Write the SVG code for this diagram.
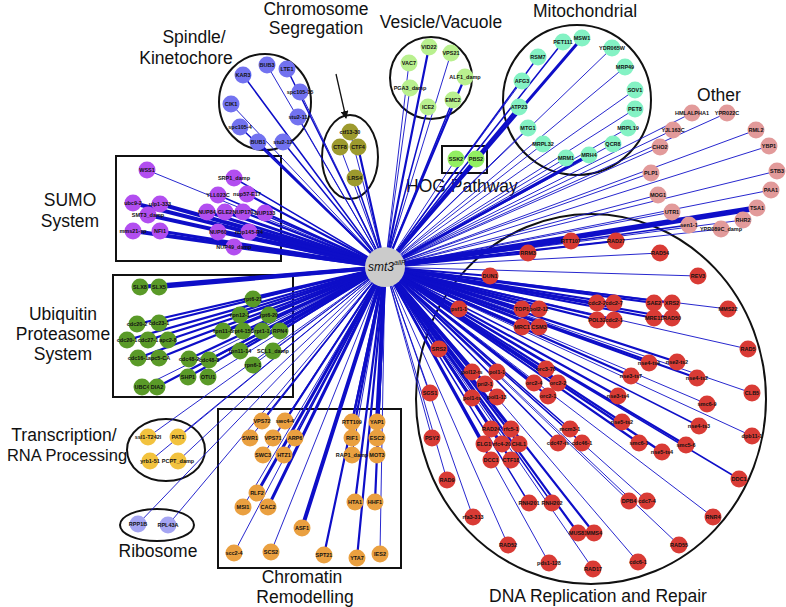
<svg xmlns="http://www.w3.org/2000/svg" width="786" height="607" viewBox="0 0 786 607">
<style>
.e{stroke:#0e0ec8;fill:none;stroke-linecap:round}
.w1{stroke-width:0.9}.w15{stroke-width:1.5}.w2{stroke-width:2.2}.w3{stroke-width:3}.w4{stroke-width:4}.w5{stroke-width:5.5}
.n circle{r:8.5px}
.t{font-family:"Liberation Sans",Arial,sans-serif;font-size:5.5px;font-weight:bold;text-anchor:middle;fill:#111}
.g{font-family:"Liberation Sans",Arial,sans-serif;font-size:17.5px;fill:#111;text-anchor:middle}
.enc{fill:none;stroke:#111;stroke-width:2}
.sp circle{fill:#7272f0}.cs circle{fill:#9d9a2e}.ve circle{fill:#b9f08f}.mi circle{fill:#84f2c4}.ho circle{fill:#92ef62}
.ot circle{fill:#e29a9a}.su circle{fill:#b24ef0}.ub circle{fill:#5a9a28}.tr circle{fill:#f2c23e}.ri circle{fill:#a4a4f2}
.ch circle{fill:#eaa040}.dn circle{fill:#d93b35}
</style>
<rect width="786" height="607" fill="#fff"/>
<g id="enclosures">
<ellipse class="enc" cx="265" cy="102" rx="46" ry="48"/>
<ellipse class="enc" cx="350" cy="157" rx="28" ry="42"/>
<circle class="enc" cx="431" cy="78" r="41"/>
<ellipse class="enc" cx="577" cy="100" rx="74" ry="75"/>
<rect class="enc" x="442" y="146" width="45" height="27"/>
<rect class="enc" x="116" y="156" width="165" height="105"/>
<rect class="enc" x="113" y="275" width="180" height="122"/>
<ellipse class="enc" cx="166" cy="450" rx="39" ry="31"/>
<ellipse class="enc" cx="157" cy="525" rx="37" ry="16"/>
<rect class="enc" x="218" y="409" width="183" height="159"/>
<ellipse class="enc" cx="591" cy="399" rx="175" ry="185"/>
</g>
<g id="group-labels">
<text class="g" x="194" y="43">Spindle/</text>
<text class="g" x="186" y="64">Kinetochore</text>
<text class="g" x="316" y="15">Chromosome</text>
<text class="g" x="316" y="34">Segregation</text>
<text class="g" x="441" y="28">Vesicle/Vacuole</text>
<text class="g" x="585" y="17">Mitochondrial</text>
<text class="g" x="719" y="101">Other</text>
<text class="g" x="406" y="192" style="text-anchor:start">HOG Pathway</text>
<text class="g" x="70" y="206">SUMO</text>
<text class="g" x="70" y="227">System</text>
<text class="g" x="63" y="320">Ubiquitin</text>
<text class="g" x="63" y="340">Proteasome</text>
<text class="g" x="63" y="360">System</text>
<text class="g" x="64" y="441">Transcription/</text>
<text class="g" x="67" y="461" style="font-size:16.5px">RNA Processing</text>
<text class="g" x="158" y="557">Ribosome</text>
<text class="g" x="302" y="583">Chromatin</text>
<text class="g" x="305" y="603">Remodelling</text>
<text class="g" x="598" y="602">DNA Replication and Repair</text>
</g>
<g id="arrow">
<defs><marker id="ah" markerWidth="8" markerHeight="8" refX="7" refY="4" orient="auto" markerUnits="userSpaceOnUse"><path d="M0,0L8,4L0,8z" fill="#111"/></marker></defs>
<line x1="336" y1="74" x2="346" y2="118" stroke="#111" stroke-width="1.3" marker-end="url(#ah)"/>
</g>
<g id="connectors" class="e">
<path class="w1" d="M385 267L267 65"/><path class="w15" d="M385 267L287 69"/><path class="w15" d="M385 267L243 75"/><path class="w1" d="M385 267L300 92"/><path class="w1" d="M385 267L231 104"/><path class="w1" d="M385 267L298 117"/><path class="w15" d="M385 267L240 127"/><path class="w2" d="M385 267L258 142"/><path class="w15" d="M385 267L283 142"/>
<path class="w1" d="M385 267L350 132"/><path class="w1" d="M385 267L340 147"/><path class="w2" d="M385 267L358 147"/><path class="w15" d="M385 267L355 178"/>
<path class="w2" d="M385 267L429 47"/><path class="w1" d="M385 267L451 53"/><path class="w1" d="M385 267L409 63"/><path class="w2" d="M385 267L465 77"/><path class="w1" d="M385 267L410 88"/><path class="w15" d="M385 267L428 107"/><path class="w15" d="M385 267L453 100"/>
<path class="w15" d="M385 267L563 42"/><path class="w3" d="M385 267L582 38"/><path class="w1" d="M385 267L612 48"/><path class="w15" d="M385 267L538 57"/><path class="w1" d="M385 267L625 67"/><path class="w1" d="M385 267L522 81"/><path class="w1" d="M385 267L635 90"/><path class="w3" d="M385 267L519 107"/><path class="w1" d="M385 267L635 109"/><path class="w1" d="M385 267L528 128"/><path class="w1" d="M385 267L628 128"/><path class="w1" d="M385 267L543 144"/><path class="w1" d="M385 267L613 144"/><path class="w1" d="M385 267L566 158"/><path class="w3" d="M385 267L589 155"/>
<path class="w1" d="M385 267L456 159"/><path class="w1" d="M385 267L476 159"/>
<path class="w1" d="M385 267L692 113"/><path class="w1" d="M385 267L727 113"/><path class="w1" d="M385 267L673 130"/><path class="w1" d="M385 267L756 130"/><path class="w1" d="M385 267L660 147"/><path class="w1" d="M385 267L769 146"/><path class="w1" d="M385 267L651 173"/><path class="w1" d="M385 267L777 171"/><path class="w1" d="M385 267L658 195"/><path class="w1" d="M385 267L771 190"/><path class="w1" d="M385 267L672 212"/><path class="w5" d="M385 267L757 208"/><path class="w1" d="M385 267L743 220"/><path class="w15" d="M385 267L689 225"/><path class="w1" d="M385 267L721 229"/>
<path class="w1" d="M385 267L147 170"/><path class="w15" d="M385 267L234 178"/><path class="w15" d="M385 267L218 195"/><path class="w2" d="M385 267L247 194"/><path class="w4" d="M385 267L133 203"/><path class="w4" d="M385 267L160 204"/><path class="w4" d="M385 267L148 215"/><path class="w3" d="M385 267L207 212"/><path class="w3" d="M385 267L225 212"/><path class="w2" d="M385 267L243 212"/><path class="w2" d="M385 267L265 213"/><path class="w4" d="M385 267L133 231"/><path class="w3" d="M385 267L160 231"/><path class="w3" d="M385 267L218 232"/><path class="w3" d="M385 267L249 232"/><path class="w3" d="M385 267L234 247"/>
<path class="w4" d="M385 267L140 287"/><path class="w4" d="M385 267L159 287"/><path class="w2" d="M385 267L253 299"/><path class="w2" d="M385 267L240 315"/><path class="w2" d="M385 267L269 315"/><path class="w2" d="M385 267L137 324"/><path class="w2" d="M385 267L159 323"/><path class="w2" d="M385 267L223 331"/><path class="w2" d="M385 267L243 331"/><path class="w2" d="M385 267L262 331"/><path class="w2" d="M385 267L280 331"/><path class="w2" d="M385 267L127 340"/><path class="w2" d="M385 267L148 340"/><path class="w2" d="M385 267L168 340"/><path class="w2" d="M385 267L240 351"/><path class="w1" d="M385 267L273 351"/><path class="w2" d="M385 267L138 358"/><path class="w2" d="M385 267L159 358"/><path class="w2" d="M385 267L189 359"/><path class="w2" d="M385 267L209 360"/><path class="w1" d="M385 267L253 365"/><path class="w2" d="M385 267L188 377"/><path class="w1" d="M385 267L208 377"/><path class="w1" d="M385 267L142 387"/><path class="w2" d="M385 267L157 387"/>
<path class="w1" d="M385 267L148 437"/><path class="w1" d="M385 267L178 437"/><path class="w1" d="M385 267L150 461"/><path class="w1" d="M385 267L178 461"/>
<path class="w1" d="M385 267L138 524"/><path class="w1" d="M385 267L168 525"/>
<path class="w15" d="M385 267L262 421"/><path class="w2" d="M385 267L285 421"/><path class="w1" d="M385 267L250 438"/><path class="w1" d="M385 267L273 438"/><path class="w15" d="M385 267L295 438"/><path class="w1" d="M385 267L263 455"/><path class="w15" d="M385 267L284 455"/><path class="w2" d="M385 267L352 422"/><path class="w4" d="M385 267L377 422"/><path class="w2" d="M385 267L352 438"/><path class="w3" d="M385 267L377 438"/><path class="w1" d="M385 267L352 455"/><path class="w2" d="M385 267L377 455"/><path class="w3" d="M385 267L257 493"/><path class="w1" d="M385 267L243 507"/><path class="w3" d="M385 267L268 507"/><path class="w2" d="M385 267L355 502"/><path class="w2" d="M385 267L375 502"/><path class="w4" d="M385 267L302 528"/><path class="w1" d="M385 267L234 553"/><path class="w1" d="M385 267L271 552"/><path class="w2" d="M385 267L324 555"/><path class="w2" d="M385 267L357 558"/><path class="w1" d="M385 267L380 554"/>
<path class="w2" d="M385 267L571 241"/><path class="w2" d="M385 267L616 241"/><path class="w1" d="M385 267L660 253"/><path class="w1" d="M385 267L698 276"/><path class="w2" d="M385 267L528 253"/><path class="w2" d="M385 267L490 276"/><path class="w2" d="M385 267L459 309"/><path class="w3" d="M385 267L522 309"/><path class="w3" d="M385 267L539 309"/><path class="w3" d="M385 267L522 327"/><path class="w3" d="M385 267L539 327"/><path class="w2" d="M385 267L597 303"/><path class="w2" d="M385 267L614 303"/><path class="w2" d="M385 267L654 303"/><path class="w2" d="M385 267L672 303"/><path class="w1" d="M385 267L728 309"/><path class="w2" d="M385 267L597 320"/><path class="w2" d="M385 267L614 320"/><path class="w2" d="M385 267L654 318"/><path class="w2" d="M385 267L672 318"/><path class="w2" d="M385 267L439 349"/><path class="w1" d="M385 267L748 349"/><path class="w2" d="M385 267L649 363"/><path class="w2" d="M385 267L677 362"/><path class="w2" d="M385 267L631 376"/><path class="w2" d="M385 267L697 378"/><path class="w2" d="M385 267L546 369"/><path class="w2" d="M385 267L472 372"/><path class="w2" d="M385 267L497 372"/><path class="w2" d="M385 267L485 384"/><path class="w2" d="M385 267L534 383"/><path class="w2" d="M385 267L558 383"/><path class="w1" d="M385 267L430 393"/><path class="w1" d="M385 267L752 393"/><path class="w2" d="M385 267L618 396"/><path class="w2" d="M385 267L472 398"/><path class="w2" d="M385 267L497 397"/><path class="w2" d="M385 267L548 396"/><path class="w1" d="M385 267L707 404"/><path class="w2" d="M385 267L622 422"/><path class="w15" d="M385 267L699 426"/><path class="w2" d="M385 267L491 429"/><path class="w2" d="M385 267L511 429"/><path class="w15" d="M385 267L570 429"/><path class="w1" d="M385 267L752 436"/><path class="w1" d="M385 267L432 438"/><path class="w2" d="M385 267L484 444"/><path class="w2" d="M385 267L502 444"/><path class="w2" d="M385 267L519 444"/><path class="w15" d="M385 267L558 443"/><path class="w15" d="M385 267L582 443"/><path class="w2" d="M385 267L639 443"/><path class="w2" d="M385 267L686 445"/><path class="w2" d="M385 267L662 452"/><path class="w2" d="M385 267L491 460"/><path class="w2" d="M385 267L511 460"/><path class="w1" d="M385 267L447 480"/><path class="w15" d="M385 267L739 479"/><path class="w15" d="M385 267L529 503"/><path class="w15" d="M385 267L552 503"/><path class="w1" d="M385 267L629 501"/><path class="w1" d="M385 267L647 501"/><path class="w1" d="M385 267L473 517"/><path class="w1" d="M385 267L713 517"/><path class="w2" d="M385 267L578 533"/><path class="w2" d="M385 267L594 533"/><path class="w1" d="M385 267L508 545"/><path class="w1" d="M385 267L679 545"/><path class="w1" d="M385 267L549 563"/><path class="w1" d="M385 267L638 562"/><path class="w1" d="M385 267L593 569"/>
</g>
<g id="hub"><circle cx="385" cy="267" r="20" fill="#cbcbcb"/><text x="368" y="271" font-family="Liberation Sans,Arial,sans-serif" font-size="12" font-style="italic" fill="#111">smt3<tspan font-size="7" dy="-6">allR</tspan></text></g>
<g id="spindle" class="n sp">
<g id="n-BUB3"><circle cx="267" cy="65"/><text class="t" x="267" y="67">BUB3</text></g>
<g id="n-LTE1"><circle cx="287" cy="69"/><text class="t" x="287" y="71">LTE1</text></g>
<g id="n-KAR3"><circle cx="243" cy="75"/><text class="t" x="243" y="77">KAR3</text></g>
<g id="n-spc105-15"><circle cx="300" cy="92"/><text class="t" x="300" y="94">spc105-15</text></g>
<g id="n-CIK1"><circle cx="231" cy="104"/><text class="t" x="231" y="106">CIK1</text></g>
<g id="n-stu2-11"><circle cx="298" cy="117"/><text class="t" x="298" y="119">stu2-11</text></g>
<g id="n-spc105-4"><circle cx="240" cy="127"/><text class="t" x="240" y="129">spc105-4</text></g>
<g id="n-BUB1"><circle cx="258" cy="142"/><text class="t" x="258" y="144">BUB1</text></g>
<g id="n-stu2-12"><circle cx="283" cy="142"/><text class="t" x="283" y="144">stu2-12</text></g>
</g>
<g id="chromseg" class="n cs">
<g id="n-ctf13-30"><circle cx="350" cy="132"/><text class="t" x="350" y="134">ctf13-30</text></g>
<g id="n-CTF8"><circle cx="340" cy="147"/><text class="t" x="340" y="149">CTF8</text></g>
<g id="n-CTF4"><circle cx="358" cy="147"/><text class="t" x="358" y="149">CTF4</text></g>
<g id="n-LRS4"><circle cx="355" cy="178"/><text class="t" x="355" y="180">LRS4</text></g>
</g>
<g id="vesicle" class="n ve">
<g id="n-VID22"><circle cx="429" cy="47"/><text class="t" x="429" y="49">VID22</text></g>
<g id="n-VPS21"><circle cx="451" cy="53"/><text class="t" x="451" y="55">VPS21</text></g>
<g id="n-VAC7"><circle cx="409" cy="63"/><text class="t" x="409" y="65">VAC7</text></g>
<g id="n-ALF1_damp"><circle cx="465" cy="77"/><text class="t" x="465" y="79">ALF1_damp</text></g>
<g id="n-PGA3_damp"><circle cx="410" cy="88"/><text class="t" x="410" y="90">PGA3_damp</text></g>
<g id="n-ICE2"><circle cx="428" cy="107"/><text class="t" x="428" y="109">ICE2</text></g>
<g id="n-EMC2"><circle cx="453" cy="100"/><text class="t" x="453" y="102">EMC2</text></g>
</g>
<g id="mito" class="n mi">
<g id="n-PET111"><circle cx="563" cy="42"/><text class="t" x="563" y="44">PET111</text></g>
<g id="n-MSW1"><circle cx="582" cy="38"/><text class="t" x="582" y="40">MSW1</text></g>
<g id="n-YDR065W"><circle cx="612" cy="48"/><text class="t" x="612" y="50">YDR065W</text></g>
<g id="n-RSM7"><circle cx="538" cy="57"/><text class="t" x="538" y="59">RSM7</text></g>
<g id="n-MRP49"><circle cx="625" cy="67"/><text class="t" x="625" y="69">MRP49</text></g>
<g id="n-AFG3"><circle cx="522" cy="81"/><text class="t" x="522" y="83">AFG3</text></g>
<g id="n-SOV1"><circle cx="635" cy="90"/><text class="t" x="635" y="92">SOV1</text></g>
<g id="n-ATP23"><circle cx="519" cy="107"/><text class="t" x="519" y="109">ATP23</text></g>
<g id="n-PET8"><circle cx="635" cy="109"/><text class="t" x="635" y="111">PET8</text></g>
<g id="n-MTG1"><circle cx="528" cy="128"/><text class="t" x="528" y="130">MTG1</text></g>
<g id="n-MRPL19"><circle cx="628" cy="128"/><text class="t" x="628" y="130">MRPL19</text></g>
<g id="n-MRPL32"><circle cx="543" cy="144"/><text class="t" x="543" y="146">MRPL32</text></g>
<g id="n-QCR8"><circle cx="613" cy="144"/><text class="t" x="613" y="146">QCR8</text></g>
<g id="n-MRM1"><circle cx="566" cy="158"/><text class="t" x="566" y="160">MRM1</text></g>
<g id="n-MRH4"><circle cx="589" cy="155"/><text class="t" x="589" y="157">MRH4</text></g>
</g>
<g id="hog" class="n ho">
<g id="n-SSK2"><circle cx="456" cy="159"/><text class="t" x="456" y="161">SSK2</text></g>
<g id="n-PBS2"><circle cx="476" cy="159"/><text class="t" x="476" y="161">PBS2</text></g>
</g>
<g id="other" class="n ot">
<g id="n-HMLALPHA1"><circle cx="692" cy="113"/><text class="t" x="692" y="115">HMLALPHA1</text></g>
<g id="n-YPR022C"><circle cx="727" cy="113"/><text class="t" x="727" y="115">YPR022C</text></g>
<g id="n-YJL163C"><circle cx="673" cy="130"/><text class="t" x="673" y="132">YJL163C</text></g>
<g id="n-RML2"><circle cx="756" cy="130"/><text class="t" x="756" y="132">RML2</text></g>
<g id="n-CHO2"><circle cx="660" cy="147"/><text class="t" x="660" y="149">CHO2</text></g>
<g id="n-YBP1"><circle cx="769" cy="146"/><text class="t" x="769" y="148">YBP1</text></g>
<g id="n-PLP1"><circle cx="651" cy="173"/><text class="t" x="651" y="175">PLP1</text></g>
<g id="n-STB3"><circle cx="777" cy="171"/><text class="t" x="777" y="173">STB3</text></g>
<g id="n-MOG1"><circle cx="658" cy="195"/><text class="t" x="658" y="197">MOG1</text></g>
<g id="n-PAA1"><circle cx="771" cy="190"/><text class="t" x="771" y="192">PAA1</text></g>
<g id="n-UTR1"><circle cx="672" cy="212"/><text class="t" x="672" y="214">UTR1</text></g>
<g id="n-TSA1"><circle cx="757" cy="208"/><text class="t" x="757" y="210">TSA1</text></g>
<g id="n-RHR2"><circle cx="743" cy="220"/><text class="t" x="743" y="222">RHR2</text></g>
<g id="n-sen1-1"><circle cx="689" cy="225"/><text class="t" x="689" y="227">sen1-1</text></g>
<g id="n-YPR089C_damp"><circle cx="721" cy="229"/><text class="t" x="721" y="231">YPR089C_damp</text></g>
</g>
<g id="sumo" class="n su">
<g id="n-WSS1"><circle cx="147" cy="170"/><text class="t" x="147" y="172">WSS1</text></g>
<g id="n-SRP1_damp"><circle cx="234" cy="178"/><text class="t" x="234" y="180">SRP1_damp</text></g>
<g id="n-YLL023C"><circle cx="218" cy="195"/><text class="t" x="218" y="197">YLL023C</text></g>
<g id="n-nup57-E17"><circle cx="247" cy="194"/><text class="t" x="247" y="196">nup57-E17</text></g>
<g id="n-ubc9-2"><circle cx="133" cy="203"/><text class="t" x="133" y="205">ubc9-2</text></g>
<g id="n-ulp1-333"><circle cx="160" cy="204"/><text class="t" x="160" y="206">ulp1-333</text></g>
<g id="n-SMT3_damp"><circle cx="148" cy="215"/><text class="t" x="148" y="217">SMT3_damp</text></g>
<g id="n-NUP84"><circle cx="207" cy="212"/><text class="t" x="207" y="214">NUP84</text></g>
<g id="n-GLE2"><circle cx="225" cy="212"/><text class="t" x="225" y="214">GLE2</text></g>
<g id="n-NUP170"><circle cx="243" cy="212"/><text class="t" x="243" y="214">NUP170</text></g>
<g id="n-NUP133"><circle cx="265" cy="213"/><text class="t" x="265" y="215">NUP133</text></g>
<g id="n-mms21-sp"><circle cx="133" cy="231"/><text class="t" x="133" y="233">mms21-sp</text></g>
<g id="n-NFI1"><circle cx="160" cy="231"/><text class="t" x="160" y="233">NFI1</text></g>
<g id="n-NUP60"><circle cx="218" cy="232"/><text class="t" x="218" y="234">NUP60</text></g>
<g id="n-nup145-R4"><circle cx="249" cy="232"/><text class="t" x="249" y="234">nup145-R4</text></g>
<g id="n-NUP49_damp"><circle cx="234" cy="247"/><text class="t" x="234" y="249">NUP49_damp</text></g>
</g>
<g id="ubiq" class="n ub">
<g id="n-SLX8"><circle cx="140" cy="287"/><text class="t" x="140" y="289">SLX8</text></g>
<g id="n-SLX5"><circle cx="159" cy="287"/><text class="t" x="159" y="289">SLX5</text></g>
<g id="n-rpt6-21"><circle cx="253" cy="299"/><text class="t" x="253" y="301">rpt6-21</text></g>
<g id="n-rpn12-1"><circle cx="240" cy="315"/><text class="t" x="240" y="317">rpn12-1</text></g>
<g id="n-rpt6-20"><circle cx="269" cy="315"/><text class="t" x="269" y="317">rpt6-20</text></g>
<g id="n-cdc20-2"><circle cx="137" cy="324"/><text class="t" x="137" y="326">cdc20-2</text></g>
<g id="n-cdc23-1"><circle cx="159" cy="323"/><text class="t" x="159" y="325">cdc23-1</text></g>
<g id="n-rpn11-8"><circle cx="223" cy="331"/><text class="t" x="223" y="333">rpn11-8</text></g>
<g id="n-rpt4-150"><circle cx="243" cy="331"/><text class="t" x="243" y="333">rpt4-150</text></g>
<g id="n-rpt1-1"><circle cx="262" cy="331"/><text class="t" x="262" y="333">rpt1-1</text></g>
<g id="n-RPN4"><circle cx="280" cy="331"/><text class="t" x="280" y="333">RPN4</text></g>
<g id="n-cdc20-1"><circle cx="127" cy="340"/><text class="t" x="127" y="342">cdc20-1</text></g>
<g id="n-cdc27-1"><circle cx="148" cy="340"/><text class="t" x="148" y="342">cdc27-1</text></g>
<g id="n-apc2-8"><circle cx="168" cy="340"/><text class="t" x="168" y="342">apc2-8</text></g>
<g id="n-rpn11-14"><circle cx="240" cy="351"/><text class="t" x="240" y="353">rpn11-14</text></g>
<g id="n-SCL1_damp"><circle cx="273" cy="351"/><text class="t" x="273" y="353">SCL1_damp</text></g>
<g id="n-cdc16-1"><circle cx="138" cy="358"/><text class="t" x="138" y="360">cdc16-1</text></g>
<g id="n-apc5-CA"><circle cx="159" cy="358"/><text class="t" x="159" y="360">apc5-CA</text></g>
<g id="n-cdc48-2"><circle cx="189" cy="359"/><text class="t" x="189" y="361">cdc48-2</text></g>
<g id="n-cdc48-3"><circle cx="209" cy="360"/><text class="t" x="209" y="362">cdc48-3</text></g>
<g id="n-rpn6-1"><circle cx="253" cy="365"/><text class="t" x="253" y="367">rpn6-1</text></g>
<g id="n-SHP1"><circle cx="188" cy="377"/><text class="t" x="188" y="379">SHP1</text></g>
<g id="n-OTU1"><circle cx="208" cy="377"/><text class="t" x="208" y="379">OTU1</text></g>
<g id="n-UBC4"><circle cx="142" cy="387"/><text class="t" x="142" y="389">UBC4</text></g>
<g id="n-DIA2"><circle cx="157" cy="387"/><text class="t" x="157" y="389">DIA2</text></g>
</g>
<g id="transcr" class="n tr">
<g id="n-ssl1-T242I"><circle cx="148" cy="437"/><text class="t" x="148" y="439">ssl1-T242I</text></g>
<g id="n-PAT1"><circle cx="178" cy="437"/><text class="t" x="178" y="439">PAT1</text></g>
<g id="n-yrb1-51"><circle cx="150" cy="461"/><text class="t" x="150" y="463">yrb1-51</text></g>
<g id="n-PCPT_damp"><circle cx="178" cy="461"/><text class="t" x="178" y="463">PCPT_damp</text></g>
</g>
<g id="ribo" class="n ri">
<g id="n-RPP1B"><circle cx="138" cy="524"/><text class="t" x="138" y="526">RPP1B</text></g>
<g id="n-RPL43A"><circle cx="168" cy="525"/><text class="t" x="168" y="527">RPL43A</text></g>
</g>
<g id="chromatin" class="n ch">
<g id="n-VPS72"><circle cx="262" cy="421"/><text class="t" x="262" y="423">VPS72</text></g>
<g id="n-swc4-4"><circle cx="285" cy="421"/><text class="t" x="285" y="423">swc4-4</text></g>
<g id="n-SWR1"><circle cx="250" cy="438"/><text class="t" x="250" y="440">SWR1</text></g>
<g id="n-VPS71"><circle cx="273" cy="438"/><text class="t" x="273" y="440">VPS71</text></g>
<g id="n-ARP6"><circle cx="295" cy="438"/><text class="t" x="295" y="440">ARP6</text></g>
<g id="n-SWC3"><circle cx="263" cy="455"/><text class="t" x="263" y="457">SWC3</text></g>
<g id="n-HTZ1"><circle cx="284" cy="455"/><text class="t" x="284" y="457">HTZ1</text></g>
<g id="n-RTT109"><circle cx="352" cy="422"/><text class="t" x="352" y="424">RTT109</text></g>
<g id="n-YAP1"><circle cx="377" cy="422"/><text class="t" x="377" y="424">YAP1</text></g>
<g id="n-RIF1"><circle cx="352" cy="438"/><text class="t" x="352" y="440">RIF1</text></g>
<g id="n-ESC2"><circle cx="377" cy="438"/><text class="t" x="377" y="440">ESC2</text></g>
<g id="n-RAP1_damp"><circle cx="352" cy="455"/><text class="t" x="352" y="457">RAP1_damp</text></g>
<g id="n-MOT3"><circle cx="377" cy="455"/><text class="t" x="377" y="457">MOT3</text></g>
<g id="n-RLF2"><circle cx="257" cy="493"/><text class="t" x="257" y="495">RLF2</text></g>
<g id="n-MSI1"><circle cx="243" cy="507"/><text class="t" x="243" y="509">MSI1</text></g>
<g id="n-CAC2"><circle cx="268" cy="507"/><text class="t" x="268" y="509">CAC2</text></g>
<g id="n-HTA1"><circle cx="355" cy="502"/><text class="t" x="355" y="504">HTA1</text></g>
<g id="n-HHF1"><circle cx="375" cy="502"/><text class="t" x="375" y="504">HHF1</text></g>
<g id="n-ASF1"><circle cx="302" cy="528"/><text class="t" x="302" y="530">ASF1</text></g>
<g id="n-scc2-4"><circle cx="234" cy="553"/><text class="t" x="234" y="555">scc2-4</text></g>
<g id="n-SCS2"><circle cx="271" cy="552"/><text class="t" x="271" y="554">SCS2</text></g>
<g id="n-SPT21"><circle cx="324" cy="555"/><text class="t" x="324" y="557">SPT21</text></g>
<g id="n-YTA7"><circle cx="357" cy="558"/><text class="t" x="357" y="560">YTA7</text></g>
<g id="n-IES2"><circle cx="380" cy="554"/><text class="t" x="380" y="556">IES2</text></g>
</g>
<g id="dna" class="n dn">
<g id="n-RTT107"><circle cx="571" cy="241"/><text class="t" x="571" y="243">RTT107</text></g>
<g id="n-RAD27"><circle cx="616" cy="241"/><text class="t" x="616" y="243">RAD27</text></g>
<g id="n-RAD54"><circle cx="660" cy="253"/><text class="t" x="660" y="255">RAD54</text></g>
<g id="n-REV3"><circle cx="698" cy="276"/><text class="t" x="698" y="278">REV3</text></g>
<g id="n-RRM3"><circle cx="528" cy="253"/><text class="t" x="528" y="255">RRM3</text></g>
<g id="n-DUN1"><circle cx="490" cy="276"/><text class="t" x="490" y="278">DUN1</text></g>
<g id="n-psf1-1"><circle cx="459" cy="309"/><text class="t" x="459" y="311">psf1-1</text></g>
<g id="n-TOP1"><circle cx="522" cy="309"/><text class="t" x="522" y="311">TOP1</text></g>
<g id="n-pol2-12"><circle cx="539" cy="309"/><text class="t" x="539" y="311">pol2-12</text></g>
<g id="n-MRC1"><circle cx="522" cy="327"/><text class="t" x="522" y="329">MRC1</text></g>
<g id="n-CSM3"><circle cx="539" cy="327"/><text class="t" x="539" y="329">CSM3</text></g>
<g id="n-cdc2-2"><circle cx="597" cy="303"/><text class="t" x="597" y="305">cdc2-2</text></g>
<g id="n-cdc2-7"><circle cx="614" cy="303"/><text class="t" x="614" y="305">cdc2-7</text></g>
<g id="n-SAE2"><circle cx="654" cy="303"/><text class="t" x="654" y="305">SAE2</text></g>
<g id="n-XRS2"><circle cx="672" cy="303"/><text class="t" x="672" y="305">XRS2</text></g>
<g id="n-MMS22"><circle cx="728" cy="309"/><text class="t" x="728" y="311">MMS22</text></g>
<g id="n-POL32"><circle cx="597" cy="320"/><text class="t" x="597" y="322">POL32</text></g>
<g id="n-cdc2-1"><circle cx="614" cy="320"/><text class="t" x="614" y="322">cdc2-1</text></g>
<g id="n-MRE11"><circle cx="654" cy="318"/><text class="t" x="654" y="320">MRE11</text></g>
<g id="n-RAD50"><circle cx="672" cy="318"/><text class="t" x="672" y="320">RAD50</text></g>
<g id="n-SRS2"><circle cx="439" cy="349"/><text class="t" x="439" y="351">SRS2</text></g>
<g id="n-RAD5"><circle cx="748" cy="349"/><text class="t" x="748" y="351">RAD5</text></g>
<g id="n-nse4-ts4"><circle cx="649" cy="363"/><text class="t" x="649" y="365">nse4-ts4</text></g>
<g id="n-nse2-ts2"><circle cx="677" cy="362"/><text class="t" x="677" y="364">nse2-ts2</text></g>
<g id="n-nse3-ts7"><circle cx="631" cy="376"/><text class="t" x="631" y="378">nse3-ts7</text></g>
<g id="n-nse4-ts2"><circle cx="697" cy="378"/><text class="t" x="697" y="380">nse4-ts2</text></g>
<g id="n-orc3-70"><circle cx="546" cy="369"/><text class="t" x="546" y="371">orc3-70</text></g>
<g id="n-pol12-ts"><circle cx="472" cy="372"/><text class="t" x="472" y="374">pol12-ts</text></g>
<g id="n-pol1-1"><circle cx="497" cy="372"/><text class="t" x="497" y="374">pol1-1</text></g>
<g id="n-pri2-1"><circle cx="485" cy="384"/><text class="t" x="485" y="386">pri2-1</text></g>
<g id="n-orc2-4"><circle cx="534" cy="383"/><text class="t" x="534" y="385">orc2-4</text></g>
<g id="n-orc2-2"><circle cx="558" cy="383"/><text class="t" x="558" y="385">orc2-2</text></g>
<g id="n-SGS1"><circle cx="430" cy="393"/><text class="t" x="430" y="395">SGS1</text></g>
<g id="n-CLB5"><circle cx="752" cy="393"/><text class="t" x="752" y="395">CLB5</text></g>
<g id="n-nse3-ts4"><circle cx="618" cy="396"/><text class="t" x="618" y="398">nse3-ts4</text></g>
<g id="n-pol1-ts"><circle cx="472" cy="398"/><text class="t" x="472" y="400">pol1-ts</text></g>
<g id="n-pol1-13"><circle cx="497" cy="397"/><text class="t" x="497" y="399">pol1-13</text></g>
<g id="n-orc2-1"><circle cx="548" cy="396"/><text class="t" x="548" y="398">orc2-1</text></g>
<g id="n-smc6-9"><circle cx="707" cy="404"/><text class="t" x="707" y="406">smc6-9</text></g>
<g id="n-nse5-ts2"><circle cx="622" cy="422"/><text class="t" x="622" y="424">nse5-ts2</text></g>
<g id="n-nse4-ts3"><circle cx="699" cy="426"/><text class="t" x="699" y="428">nse4-ts3</text></g>
<g id="n-RAD24"><circle cx="491" cy="429"/><text class="t" x="491" y="431">RAD24</text></g>
<g id="n-rfc5-1"><circle cx="511" cy="429"/><text class="t" x="511" y="431">rfc5-1</text></g>
<g id="n-mcm3-1"><circle cx="570" cy="429"/><text class="t" x="570" y="431">mcm3-1</text></g>
<g id="n-dpb11-1"><circle cx="752" cy="436"/><text class="t" x="752" y="438">dpb11-1</text></g>
<g id="n-PSY2"><circle cx="432" cy="438"/><text class="t" x="432" y="440">PSY2</text></g>
<g id="n-ELG1"><circle cx="484" cy="444"/><text class="t" x="484" y="446">ELG1</text></g>
<g id="n-rfc4-20"><circle cx="502" cy="444"/><text class="t" x="502" y="446">rfc4-20</text></g>
<g id="n-CHL1"><circle cx="519" cy="444"/><text class="t" x="519" y="446">CHL1</text></g>
<g id="n-cdc47-ts"><circle cx="558" cy="443"/><text class="t" x="558" y="445">cdc47-ts</text></g>
<g id="n-cdc46-1"><circle cx="582" cy="443"/><text class="t" x="582" y="445">cdc46-1</text></g>
<g id="n-smc6-1"><circle cx="639" cy="443"/><text class="t" x="639" y="445">smc6-1</text></g>
<g id="n-smc5-6"><circle cx="686" cy="445"/><text class="t" x="686" y="447">smc5-6</text></g>
<g id="n-nse5-ts4"><circle cx="662" cy="452"/><text class="t" x="662" y="454">nse5-ts4</text></g>
<g id="n-DCC1"><circle cx="491" cy="460"/><text class="t" x="491" y="462">DCC1</text></g>
<g id="n-CTF18"><circle cx="511" cy="460"/><text class="t" x="511" y="462">CTF18</text></g>
<g id="n-RAD9"><circle cx="447" cy="480"/><text class="t" x="447" y="482">RAD9</text></g>
<g id="n-DDC1"><circle cx="739" cy="479"/><text class="t" x="739" y="481">DDC1</text></g>
<g id="n-RNH201"><circle cx="529" cy="503"/><text class="t" x="529" y="505">RNH201</text></g>
<g id="n-RNH202"><circle cx="552" cy="503"/><text class="t" x="552" y="505">RNH202</text></g>
<g id="n-DPB4"><circle cx="629" cy="501"/><text class="t" x="629" y="503">DPB4</text></g>
<g id="n-cdc7-4"><circle cx="647" cy="501"/><text class="t" x="647" y="503">cdc7-4</text></g>
<g id="n-rfa3-313"><circle cx="473" cy="517"/><text class="t" x="473" y="519">rfa3-313</text></g>
<g id="n-RNR4"><circle cx="713" cy="517"/><text class="t" x="713" y="519">RNR4</text></g>
<g id="n-MUS81"><circle cx="578" cy="533"/><text class="t" x="578" y="535">MUS81</text></g>
<g id="n-MMS4"><circle cx="594" cy="533"/><text class="t" x="594" y="535">MMS4</text></g>
<g id="n-RAD52"><circle cx="508" cy="545"/><text class="t" x="508" y="547">RAD52</text></g>
<g id="n-RAD55"><circle cx="679" cy="545"/><text class="t" x="679" y="547">RAD55</text></g>
<g id="n-pds1-128"><circle cx="549" cy="563"/><text class="t" x="549" y="565">pds1-128</text></g>
<g id="n-cdc6-1"><circle cx="638" cy="562"/><text class="t" x="638" y="564">cdc6-1</text></g>
<g id="n-RAD17"><circle cx="593" cy="569"/><text class="t" x="593" y="571">RAD17</text></g>
</g>
</svg>
